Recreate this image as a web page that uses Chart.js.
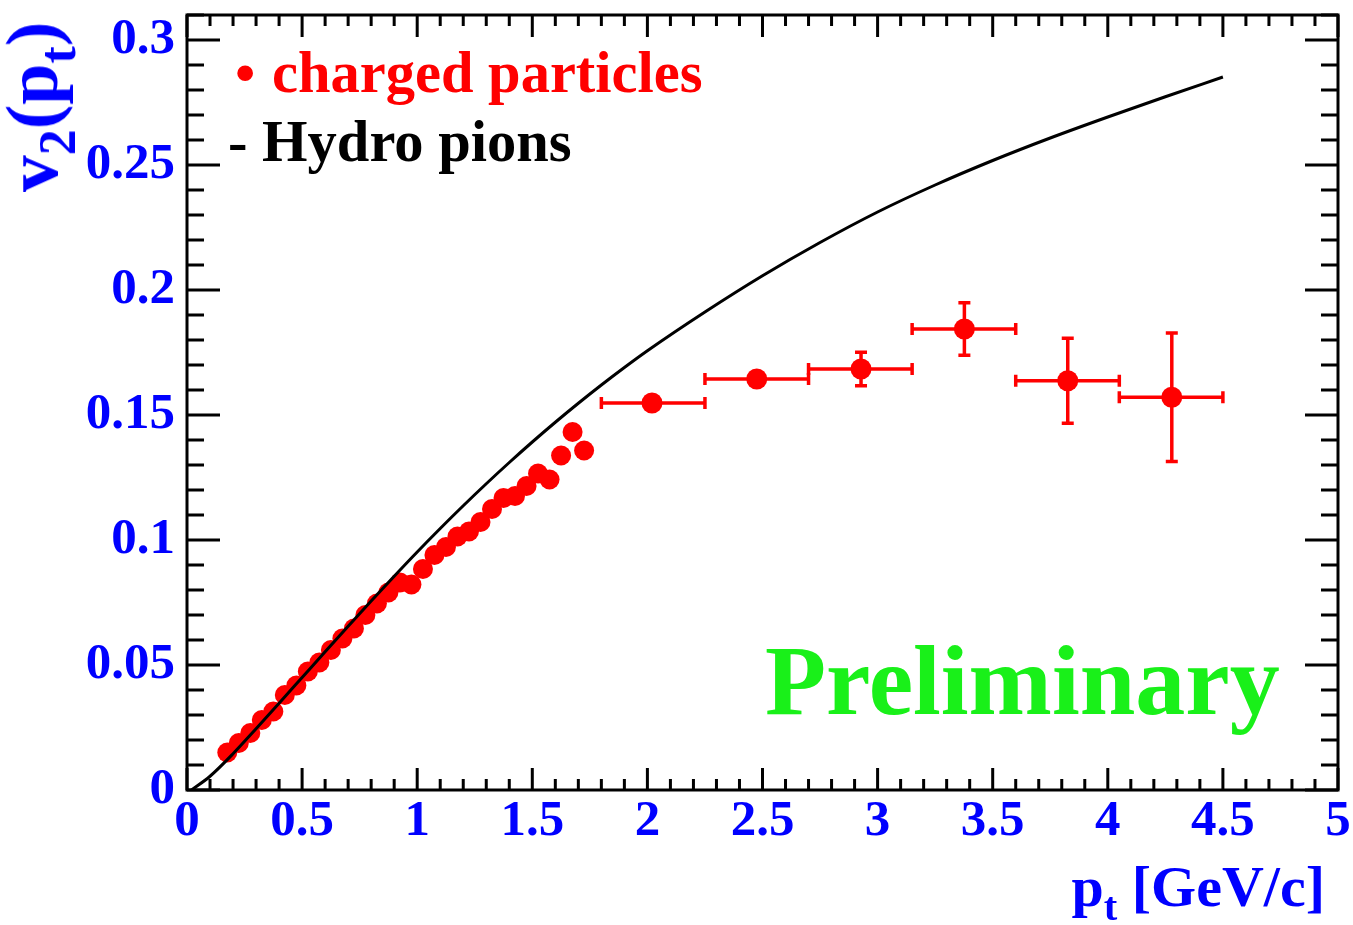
<!DOCTYPE html>
<html>
<head>
<meta charset="utf-8">
<script src="https://cdn.jsdelivr.net/npm/chart.js@4.4.0/dist/chart.umd.min.js"></script>
<style>
  body { margin: 0; background: #fff; }
  #wrap { position: relative; width: 1353px; height: 925px; font-family: "Liberation Serif", "Times New Roman", serif; font-weight: bold; }
  #chart { position: absolute; left: 0; top: 0; }
  .txt { position: absolute; white-space: nowrap; line-height: 1; }
  .txt sub { font-size: 70%; vertical-align: baseline; position: relative; top: 0.35em; }
  #ytitle { left: 32px; top: 107px; font-size: 74px; color: #0000ff; transform: translate(-50%, -50%) rotate(-90deg); }
  #xtitle { right: 28px; top: 858px; font-size: 58px; color: #0000ff; }
  #leg1dot { left: 235px; top: 44px; font-size: 58px; color: #ff0000; }
  #leg1 { left: 272px; top: 44px; font-size: 58.5px; color: #ff0000; }
  #leg2 { left: 228px; top: 113px; font-size: 58.5px; color: #000; }
  #prelim { left: 765px; top: 631px; font-size: 100px; color: #19f019; }
</style>
</head>
<body>
<div id="wrap">
  <canvas id="chart" width="1353" height="925"></canvas>
  <div class="txt" id="ytitle">v<sub>2</sub>(p<sub>t</sub>)</div>
  <div class="txt" id="xtitle">p<sub>t</sub> [GeV/c]</div>
  <div class="txt" id="leg1dot">&bull;</div>
  <div class="txt" id="leg1">charged particles</div>
  <div class="txt" id="leg2">- Hydro pions</div>
  <div class="txt" id="prelim">Preliminary</div>
</div>
<script>
// hydro curve (pions)
const hydroPt = [0.02, 0.1, 0.2, 0.3, 0.4, 0.5, 0.6, 0.7, 0.8, 0.9, 1.0, 1.1, 1.2, 1.3, 1.4, 1.5,
  1.6, 1.7, 1.8, 1.9, 2.0, 2.25, 2.5, 2.75, 3.0, 3.25, 3.5, 3.75, 4.0, 4.25, 4.5];
const hydroV = [0.0, 0.0055, 0.0145, 0.0245, 0.0347, 0.045, 0.0553, 0.0655, 0.0756, 0.0855, 0.0952,
  0.1046, 0.1137, 0.1225, 0.131, 0.1392, 0.1471, 0.1547, 0.162, 0.169, 0.1757, 0.1912, 0.2057,
  0.219, 0.2312, 0.242, 0.2518, 0.2608, 0.2692, 0.2773, 0.2852];

// charged particles, fine bins
const lowPt = [0.175, 0.225, 0.275, 0.325, 0.375, 0.425, 0.475, 0.525, 0.575, 0.625, 0.675,
  0.725, 0.775, 0.825, 0.875, 0.925, 0.975, 1.025, 1.075, 1.125, 1.175, 1.225, 1.275, 1.325,
  1.375, 1.425, 1.475, 1.525, 1.575, 1.625, 1.675, 1.725];
const lowV = [0.0150, 0.0188, 0.0228, 0.0280, 0.0314, 0.0380, 0.0418, 0.0474, 0.0510, 0.0560,
  0.0606, 0.0646, 0.0700, 0.0746, 0.0790, 0.0830, 0.0822, 0.0884, 0.0940, 0.0972, 0.1014,
  0.1034, 0.1072, 0.1124, 0.1168, 0.1176, 0.1216, 0.1266, 0.1242, 0.1338, 0.1432, 0.1358];

// charged particles, wide bins with errors
const highPt = [2.02, 2.475, 2.928, 3.377, 3.826, 4.278];
const highV = [0.1548, 0.1644, 0.1684, 0.1844, 0.1637, 0.1571];
const highErr = [0.003, 0.003, 0.0067, 0.0105, 0.017, 0.0257];
const binLo = [1.8, 2.25, 2.7, 3.15, 3.6, 4.05];
const binHi = [2.25, 2.7, 3.15, 3.6, 4.05, 4.5];

const xTicks = [0, 0.5, 1, 1.5, 2, 2.5, 3, 3.5, 4, 4.5, 5];
const yTicks = [0, 0.05, 0.1, 0.15, 0.2, 0.25, 0.3];

const RED = '#ff0000';
const tickFont = { family: '"Liberation Serif", serif', size: 51, weight: 'bold' };

function fmt(v) {
  return String(Math.round(v * 100) / 100);
}

// error bars for the wide bins
const errorBars = {
  id: 'errorBars',
  afterDatasetsDraw(chart) {
    const xs = chart.scales.x, ys = chart.scales.y;
    const c = chart.ctx;
    c.save();
    c.strokeStyle = RED;
    c.lineWidth = 3.5;
    const cap = 6;
    highPt.forEach((pt, i) => {
      const px = xs.getPixelForValue(pt);
      const py = ys.getPixelForValue(highV[i]);
      const x0 = xs.getPixelForValue(binLo[i]);
      const x1 = xs.getPixelForValue(binHi[i]);
      const yTop = ys.getPixelForValue(highV[i] + highErr[i]);
      const yBot = ys.getPixelForValue(highV[i] - highErr[i]);
      c.beginPath();
      c.moveTo(x0, py); c.lineTo(x1, py);
      c.moveTo(x0, py - cap); c.lineTo(x0, py + cap);
      c.moveTo(x1, py - cap); c.lineTo(x1, py + cap);
      if (py - yTop > 11) {
        c.moveTo(px, yTop); c.lineTo(px, yBot);
        c.moveTo(px - cap, yTop); c.lineTo(px + cap, yTop);
        c.moveTo(px - cap, yBot); c.lineTo(px + cap, yBot);
      }
      c.stroke();
    });
    c.restore();
  }
};

// ROOT style frame with ticks on all four sides
const rootFrame = {
  id: 'rootFrame',
  afterDraw(chart) {
    const a = chart.chartArea;
    const xs = chart.scales.x, ys = chart.scales.y;
    const c = chart.ctx;
    c.save();
    c.strokeStyle = '#000';
    c.lineWidth = 3;
    c.beginPath();
    for (let k = 0; k <= 50; k++) {
      const px = xs.getPixelForValue(k / 10);
      const len = k % 5 === 0 ? 22 : 11;
      c.moveTo(px, a.bottom); c.lineTo(px, a.bottom - len);
      c.moveTo(px, a.top); c.lineTo(px, a.top + len);
    }
    for (let k = 0; k <= 31; k++) {
      const py = ys.getPixelForValue(k / 100);
      const len = k % 5 === 0 ? 33 : 17;
      c.moveTo(a.left, py); c.lineTo(a.left + len, py);
      c.moveTo(a.right, py); c.lineTo(a.right - len, py);
    }
    c.stroke();
    c.strokeRect(a.left, a.top, a.right - a.left, a.bottom - a.top);
    c.restore();
  }
};

new Chart(document.getElementById('chart'), {
  type: 'scatter',
  data: {
    datasets: [
      {
        label: 'Hydro pions',
        data: hydroPt.map((x, i) => ({ x: x, y: hydroV[i] })),
        showLine: true,
        borderColor: '#000',
        borderWidth: 3,
        pointRadius: 0,
        cubicInterpolationMode: 'monotone',
        fill: false
      },
      {
        label: 'charged particles',
        data: lowPt.map((x, i) => ({ x: x, y: lowV[i] })),
        backgroundColor: RED,
        borderColor: RED,
        borderWidth: 0,
        pointRadius: 10
      },
      {
        label: 'charged particles (wide bins)',
        data: highPt.map((x, i) => ({ x: x, y: highV[i] })),
        backgroundColor: RED,
        borderColor: RED,
        borderWidth: 0,
        pointRadius: 10.5
      }
    ]
  },
  options: {
    responsive: false,
    animation: false,
    devicePixelRatio: 1,
    layout: { padding: { top: 15, right: 15, left: 0, bottom: 0 } },
    plugins: { legend: { display: false }, tooltip: { enabled: false } },
    scales: {
      x: {
        type: 'linear',
        min: 0,
        max: 5,
        afterBuildTicks: (s) => { s.ticks = xTicks.map((v) => ({ value: v })); },
        afterFit: (s) => { s.height = 135; s.paddingLeft = 0; s.paddingRight = 0; },
        grid: { display: false, drawTicks: false },
        border: { display: false },
        ticks: { padding: 1, color: '#0000ff', font: tickFont, maxRotation: 0, autoSkip: false, callback: fmt }
      },
      y: {
        type: 'linear',
        min: 0,
        max: 0.31,
        afterBuildTicks: (s) => { s.ticks = yTicks.map((v) => ({ value: v })); },
        afterFit: (s) => { s.width = 187; s.paddingTop = 0; s.paddingBottom = 0; },
        grid: { display: false, drawTicks: false },
        border: { display: false },
        ticks: { padding: 12, color: '#0000ff', font: tickFont, autoSkip: false, callback: fmt }
      }
    }
  },
  plugins: [errorBars, rootFrame]
});
</script>
</body>
</html>
